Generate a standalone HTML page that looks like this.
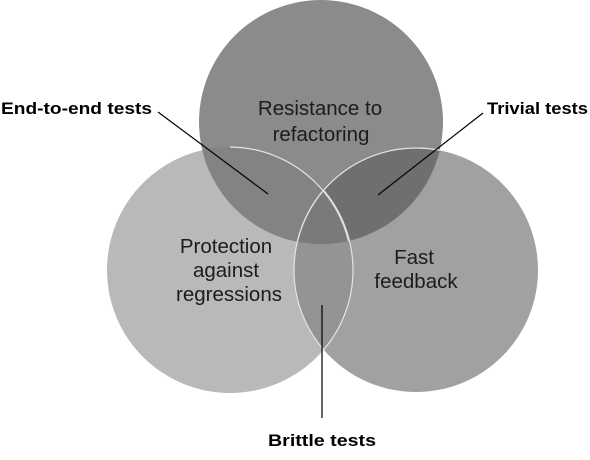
<!DOCTYPE html>
<html><head><style>html,body{margin:0;padding:0;background:#fff}</style></head>
<body>
<svg width="590" height="455" viewBox="0 0 590 455" xmlns="http://www.w3.org/2000/svg" font-family="Liberation Sans, sans-serif">
<defs>
<clipPath id="cT"><circle cx="321" cy="122" r="122"/></clipPath>
<clipPath id="cL"><circle cx="230" cy="270" r="123"/></clipPath>
<clipPath id="cR"><circle cx="416" cy="270" r="122"/></clipPath>
</defs>
<circle cx="230" cy="270" r="123" fill="#b9b9b9"/>
<circle cx="416" cy="270" r="122" fill="#a1a1a1"/>
<circle cx="416" cy="270" r="122" fill="#949494" clip-path="url(#cL)"/>
<circle cx="321" cy="122" r="122" fill="#8b8b8b"/>
<g clip-path="url(#cT)">
<circle cx="230" cy="270" r="123" fill="#838383"/>
<circle cx="416" cy="270" r="122" fill="#6f6f6f"/>
<g clip-path="url(#cL)"><circle cx="416" cy="270" r="122" fill="#7a7a7a"/></g>
</g>
<g fill="none" stroke="#e4e4e4" stroke-width="1.2">
<path d="M 230 147 A 123 123 0 0 1 352 270" clip-path="url(#cT)"/>
<circle cx="230" cy="270" r="123" clip-path="url(#cR)"/>
<circle cx="416" cy="270" r="122" clip-path="url(#cT)"/>
<circle cx="416" cy="270" r="122" clip-path="url(#cL)"/>
</g>
<g font-size="20.5" fill="#1c1c1c" text-anchor="middle">
<text x="320" y="115">Resistance to</text>
<text x="321" y="141">refactoring</text>
<text x="226" y="253">Protection</text>
<text x="226" y="277">against</text>
<text x="229" y="301">regressions</text>
<text x="414" y="264">Fast</text>
<text x="416" y="288">feedback</text>
</g>
<g stroke="#000" stroke-width="1.2">
<line x1="158" y1="112" x2="268" y2="194"/>
<line x1="483" y1="113" x2="378" y2="195"/>
<line x1="322" y1="305" x2="322" y2="418"/>
</g>
<g font-size="17" font-weight="bold" fill="#000">
<text x="1" y="114" textLength="151" lengthAdjust="spacingAndGlyphs">End-to-end tests</text>
<text x="487" y="114" textLength="101" lengthAdjust="spacingAndGlyphs">Trivial tests</text>
<text x="268" y="446" textLength="108" lengthAdjust="spacingAndGlyphs">Brittle tests</text>
</g>
</svg>
</body></html>
